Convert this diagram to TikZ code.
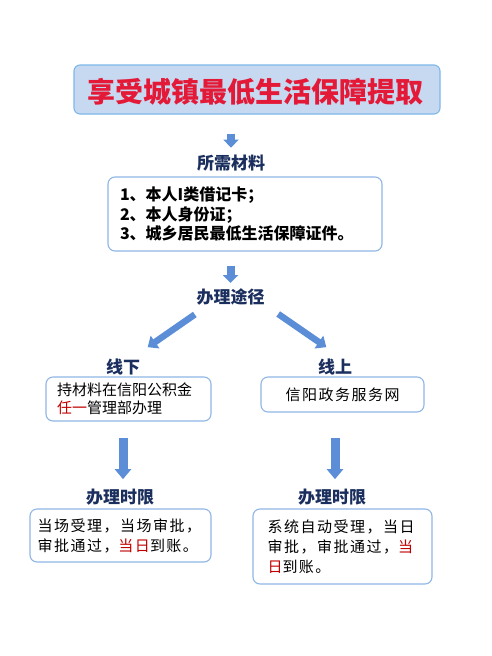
\documentclass[tikz,border=0pt]{standalone}
\usepackage{fontspec}
\setmainfont{Noto Sans CJK SC}
\newfontfamily\cjkwide[LetterSpace=10]{Noto Sans CJK SC}
\usetikzlibrary{positioning,arrows.meta,calc}

\definecolor{titlefill}{HTML}{C6D9F1}
\definecolor{titleline}{HTML}{7DB7E8}
\definecolor{titlered}{HTML}{E31937}
\definecolor{boxline}{HTML}{8FB6E6}
\definecolor{arrowblue}{HTML}{5B8ED7}
\definecolor{navy}{HTML}{1B2F5E}
\definecolor{textred}{HTML}{C00000}

\begin{document}
\begin{tikzpicture}[
    x=1pt, y=-1pt,
    heading/.style={
        font=\fontsize{17}{19}\selectfont\bfseries,
        text=navy,
        inner sep=0pt
    },
    infobox/.style={
        draw=boxline,
        line width=1.1pt,
        rounded corners=7pt,
        fill=white,
        align=left
    },
    titlefont/.style={font=\fontsize{28}{30}\selectfont\bfseries},
    blockarrow/.style={draw=arrowblue, line width=8pt, -{Triangle[width=15pt,length=8pt]}},
    slantarrow/.style={draw=arrowblue, line width=6.5pt, -{Triangle[width=15pt,length=9pt]}},
    tallarrow/.style={draw=arrowblue, line width=9pt, -{Triangle[width=16pt,length=10pt]}}
]
\useasboundingbox (0,0) rectangle (491,656);

% ============================================================
% TITLE
% ============================================================
\node[draw=titleline, fill=titlefill, line width=1.1pt, rounded corners=6pt,
      minimum width=366pt, minimum height=49pt] (title) at (257,89.5) {};
\node[titlefont, text=titlered] (titletext) at (255.5,92) {享受城镇最低生活保障提取};

% ============================================================
% MATERIALS
% ============================================================
\node[heading] (need) at (231,163) {所需材料};
\node[infobox, text width=250pt, inner xsep=12pt, minimum height=74pt,
      font=\fontsize{16}{19.5}\selectfont\bfseries] (matbox) at (245,214)
    {1、本人I类借记卡；\\2、本人身份证；\\3、城乡居民最低生活保障证件。};

\draw[blockarrow, shorten <=19pt, shorten >=7pt] (need |- title.south) -- (need.north);

% ============================================================
% CHANNELS
% ============================================================
\node[heading] (route) at (230.5,297) {办理途径};
\node[heading] (offline) at (123,367) {线下};
\node[heading] (online) at (335,367) {线上};

\draw[blockarrow, shorten <=14pt, shorten >=5.5pt] (route |- matbox.south) -- (route.north);
\draw[slantarrow] ([shift={(-1.5,9)}]route.south west) -- ([shift={(7.5,-11.5)}]offline.north east);
\draw[slantarrow] ([shift={(13.5,8.5)}]route.south east) -- ([shift={(8.5,-11.5)}]online.north west);

\node[infobox, text width=143pt, inner xsep=11pt, minimum height=44pt,
      font=\fontsize{15}{18}\selectfont] (offbox) at (128.5,399)
    {持材料在信阳公积金\\\textcolor{textred}{任一}管理部办理};
\node[infobox, align=center, minimum width=163pt, minimum height=35pt,
      font=\cjkwide\fontsize{15}{18}\selectfont] (onbox) at (342.5,394.5)
    {信阳政务服务网};

% ============================================================
% TIME LIMITS
% ============================================================
\node[heading] (tlimoff) at (120,497) {办理时限};
\node[heading] (tlimon) at (332,497) {办理时限};

\draw[tallarrow, shorten <=16pt, shorten >=9.5pt] (offline |- offbox.south) -- (offline |- tlimoff.north);
\draw[tallarrow, shorten <=25pt, shorten >=9.5pt] (online |- onbox.south) -- (online |- tlimon.north);

\node[infobox, text width=166pt, inner xsep=7.5pt, minimum height=53pt,
      font=\cjkwide\fontsize{15}{20}\selectfont] (timeoff) at (120.5,535.5)
    {当场受理，当场审批，\\审批通过，\textcolor{textred}{当日}到账。};
\node[infobox, text width=150pt, inner xsep=14.5pt, minimum height=75pt,
      font=\cjkwide\fontsize{15}{20}\selectfont] (timeon) at (342.5,546.5)
    {系统自动受理，当日\\审批，审批通过，\textcolor{textred}{当}\\\textcolor{textred}{日}到账。};

\end{tikzpicture}
\end{document}
